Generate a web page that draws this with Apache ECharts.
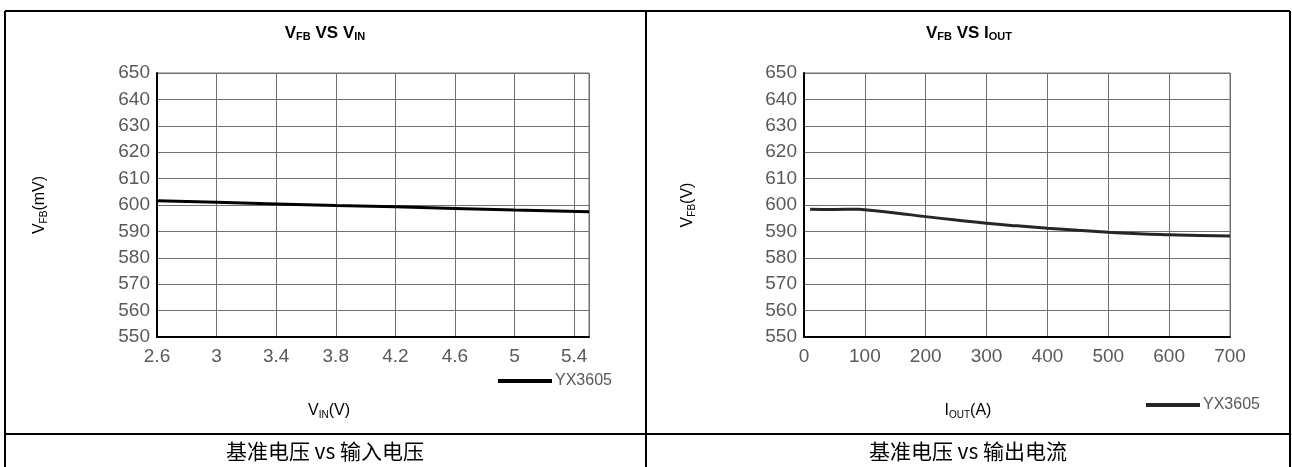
<!DOCTYPE html>
<html><head><meta charset="utf-8">
<script src="https://cdn.jsdelivr.net/npm/echarts@6/dist/echarts.min.js"></script>
<style>html,body{margin:0;padding:0;background:#fff}#c{width:1292px;height:467px}</style>
</head><body><div id="c"></div>
<script>
// Left chart: V_FB vs V_IN
const vinX = [2.6, 3.0, 3.4, 3.8, 4.2, 4.6, 5.0, 5.5];
const vfbVin = [601.6, 601.0, 600.4, 599.8, 599.3, 598.7, 598.1, 597.4];
// Right chart: V_FB vs I_OUT
const ioutX = [10, 50, 90, 100, 150, 200, 250, 300, 350, 400, 450, 500, 550, 600, 650, 700];
const vfbIout = [598.4, 598.3, 598.4, 598.2, 597.0, 595.6, 594.3, 593.1, 592.1, 591.2, 590.4, 589.7, 589.1, 588.7, 588.4, 588.3];
const seriesName = 'YX3605';
const captions = ['基准电压 vs 输入电压', '基准电压 vs 输出电流'];

const FONT = '"Liberation Sans Narrow","Liberation Sans",Arial,sans-serif';
const LBL = '#595959';
const GRIDC = '#707070';

const chart = echarts.init(document.getElementById('c'), null, {renderer: 'canvas'});

function yAxis(gi) {
  return {
    type: 'value', gridIndex: gi, min: 550, max: 650, interval: 10,
    axisLine: {show: true, lineStyle: {color: '#000', width: 2}},
    axisTick: {show: false},
    axisLabel: {color: LBL, fontSize: 19, fontFamily: FONT, margin: 7},
    splitLine: {show: true, lineStyle: {color: GRIDC, width: 1}}
  };
}
function xAxis(gi, min, max, interval, hideMax) {
  return {
    type: 'value', gridIndex: gi, min: min, max: max, interval: interval,
    axisLine: {show: true, onZero: false, lineStyle: {color: '#000', width: 2}},
    axisTick: {show: false},
    axisLabel: {color: LBL, fontSize: 19, fontFamily: FONT, margin: 10, showMaxLabel: !hideMax,
      formatter: v => String(parseFloat(Number(v).toFixed(2)))},
    splitLine: {show: true, lineStyle: {color: GRIDC, width: 1}}
  };
}

const TF = '"Liberation Sans",Arial,sans-serif';
const subRich = {
  n: {fontSize: 17, fontWeight: 'bold', color: '#404040', fontFamily: TF},
  s: {fontSize: 11, fontWeight: 'bold', color: '#404040', fontFamily: TF, padding: [8, 0, 0, 0]}
};
const axRich = {
  n: {fontSize: 16, color: LBL, fontFamily: FONT},
  s: {fontSize: 10, color: LBL, fontFamily: FONT, padding: [8, 0, 0, 0]}
};

function txt(x, y, text, rich, opts) {
  return Object.assign({
    type: 'text', x: x, y: y, z: 10,
    style: {text: text, rich: rich, align: 'center', verticalAlign: 'middle'}
  }, opts || {});
}

const BK = {stroke: '#000', lineWidth: 2};
function ln(x1, y1, x2, y2) {
  return {type: 'line', shape: {x1, y1, x2, y2}, style: BK, z: 20};
}
function legendItem(x, y, color) {
  return [
    {type: 'rect', shape: {x: x, y: y - 2, width: 54, height: 4}, style: {fill: color}, z: 10},
    {type: 'text', x: x + 57, y: y, z: 10, style: {text: seriesName, fill: LBL, fontSize: 16, fontFamily: FONT, verticalAlign: 'middle'}}
  ];
}
const CAP = {fill: '#000', fontSize: 21, fontFamily: '"Noto Sans CJK SC",sans-serif', align: 'center', verticalAlign: 'middle'};

chart.setOption({
  animation: false,
  backgroundColor: '#fff',
  grid: [
    {left: 157, top: 73, width: 432, height: 264, show: true, borderColor: GRIDC, borderWidth: 1},
    {left: 804, top: 73, width: 426, height: 264, show: true, borderColor: GRIDC, borderWidth: 1}
  ],
  xAxis: [xAxis(0, 2.6, 5.5, 0.4, true), xAxis(1, 0, 700, 100, false)],
  yAxis: [yAxis(0), yAxis(1)],
  series: [
    {name: seriesName, type: 'line', xAxisIndex: 0, yAxisIndex: 0, data: vinX.map((x, i) => [x, vfbVin[i]]),
      showSymbol: false, lineStyle: {color: '#000', width: 3}, itemStyle: {color: '#000'}},
    {name: seriesName, type: 'line', xAxisIndex: 1, yAxisIndex: 1, data: ioutX.map((x, i) => [x, vfbIout[i]]),
      showSymbol: false, smooth: true, lineStyle: {color: '#262626', width: 3}, itemStyle: {color: '#262626'}}
  ],
  graphic: [
    ln(5, 11, 1290, 11), ln(5, 11, 5, 467), ln(646, 11, 646, 467), ln(1290, 11, 1290, 467), ln(5, 434, 1290, 434),
    txt(325, 33, '{n|V}{s|FB}{n| VS V}{s|IN}', subRich),
    txt(969, 33, '{n|V}{s|FB}{n| VS I}{s|OUT}', subRich),
    txt(329, 411, '{n|V}{s|IN}{n|(V)}', axRich),
    txt(968, 411, '{n|I}{s|OUT}{n|(A)}', axRich),
    txt(40, 205, '{n|V}{s|FB}{n|(mV)}', axRich, {rotation: Math.PI / 2}),
    txt(688, 205, '{n|V}{s|FB}{n|(V)}', axRich, {rotation: Math.PI / 2}),
    ...legendItem(498, 381, '#000'),
    ...legendItem(1146, 405, '#262626'),
    {type: 'text', x: 325, y: 451, z: 10, style: Object.assign({text: captions[0]}, CAP)},
    {type: 'text', x: 968, y: 451, z: 10, style: Object.assign({text: captions[1]}, CAP)}
  ]
});
</script></body></html>
